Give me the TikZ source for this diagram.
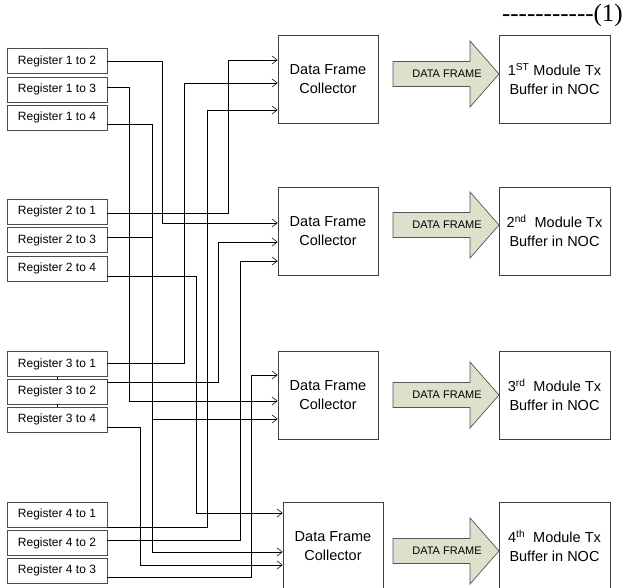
\documentclass[tikz,border=0pt]{standalone}
\usepackage{fontspec}
\setmainfont{Liberation Sans}
\newfontfamily\eqfont{Liberation Serif}
\usetikzlibrary{arrows.meta}
\definecolor{framefill}{RGB}{221,225,204}
\definecolor{frameedge}{RGB}{85,85,85}
\newcommand\hy{-\kern0pt}

\begin{document}
\begin{tikzpicture}[x=1pt,y=-1pt,
  reg/.style={draw=black!70, line width=0.9pt, minimum width=100pt,
    minimum height=25pt, inner sep=0pt, font=\fontsize{12}{14}\selectfont},
  box/.style={draw=black!75, line width=0.8pt, inner sep=0pt, align=center,
    minimum height=88pt, font=\fontsize{14.5}{19}\selectfont},
  collector/.style={box, minimum width=100pt},
  module/.style={box, minimum width=111pt},
  conn/.style={draw=black, line width=0.7pt,
    -{Straight Barb[length=5pt,width=8pt,line width=0.6pt]}},
  link/.style={draw=black, line width=0.7pt},
  bigarrow/.style={draw=frameedge, fill=framefill, line width=0.7pt},
  arrowtext/.style={inner sep=0pt, font=\fontsize{11}{13}\selectfont}
]
\useasboundingbox (0,0) rectangle (624,587);
\clip (0,0) rectangle (624,587);

% equation tag
\node[anchor=base east, inner sep=0pt, font=\eqfont\fontsize{25}{25}\selectfont]
  (tag) at (623,21) {\hy\hy\hy\hy\hy\hy\hy\hy\hy\hy\hy(1)};

% register blocks
\node[reg] (r12) at (57,61)    {Register 1 to 2};
\node[reg] (r13) at (57,89.5)  {Register 1 to 3};
\node[reg] (r14) at (57,117.5) {Register 1 to 4};
\node[reg] (r21) at (57,211.5) {Register 2 to 1};
\node[reg] (r23) at (57,240)   {Register 2 to 3};
\node[reg] (r24) at (57,268.5) {Register 2 to 4};
\node[reg] (r31) at (57,364)   {Register 3 to 1};
\node[reg] (r32) at (57,391.5) {Register 3 to 2};
\node[reg] (r34) at (57,419.5) {Register 3 to 4};
\node[reg] (r41) at (57,514.5) {Register 4 to 1};
\node[reg] (r42) at (57,543)   {Register 4 to 2};
\node[reg] (r43) at (57,570.5) {Register 4 to 3};
\draw[link] (r31.south) -- (r32.north);
\draw[link] (r32.south) -- (r34.north);

% collectors
\node[collector] (c1) at (328,79)  {Data Frame\\Collector};
\node[collector] (c2) at (328,231) {Data Frame\\Collector};
\node[collector] (c3) at (328,395) {Data Frame\\Collector};
\node[collector] (c4) at (333,546) {Data Frame\\Collector};

% transmit buffers
\node[module] (m1) at (554.5,79)  {1\textsuperscript{ST} Module Tx\\Buffer in NOC};
\node[module] (m2) at (554.5,231) {2\textsuperscript{nd}\ \ Module Tx\\Buffer in NOC};
\node[module] (m3) at (554.5,395) {3\textsuperscript{rd}\ \ Module Tx\\Buffer in NOC};
\node[module] (m4) at (554.5,546) {4\textsuperscript{th}\ \ Module Tx\\Buffer in NOC};

% data frame arrows
\foreach \cy/\n in {74/1, 225/2, 395/3, 551/4}{
  \draw[bigarrow] (393,\cy-12.5) -- (470,\cy-12.5) -- (470,\cy-33)
    -- (499,\cy) -- (470,\cy+33) -- (470,\cy+12.5) -- (393,\cy+12.5) -- cycle;
  \node[arrowtext] (df\n) at (447,\cy) {DATA FRAME};
}

% register to collector routing
\draw[conn] (r12.east |- 0,61)  -| (162,223) -- (c2.west |- 0,223);
\draw[conn] (r13.east |- 0,87)  -| (129,401) -- (c3.west |- 0,401);
\draw[conn] (r14.east |- 0,124) -| (152,552) -- (c4.west |- 0,552);
\draw[conn] (r21.east |- 0,213) -| (228,60)  -- (c1.west |- 0,60);
\draw[conn] (r23.east |- 0,237) -| (152,419) -- (c3.west |- 0,419);
\draw[conn] (r24.east |- 0,276) -| (196,513) -- (c4.west |- 0,513);
\draw[conn] (r31.east |- 0,363) -| (184,83)  -- (c1.west |- 0,83);
\draw[conn] (r32.east |- 0,382) -| (218,242) -- (c2.west |- 0,242);
\draw[conn] (r34.east |- 0,427) -| (140,565) -- (c4.west |- 0,565);
\draw[conn] (r41.east |- 0,527) -| (207,110) -- (c1.west |- 0,110);
\draw[conn] (r42.east |- 0,540) -| (240,261) -- (c2.west |- 0,261);
\draw[conn] (r43.east |- 0,577) -| (251,375) -- (c3.west |- 0,375);
\end{tikzpicture}
\end{document}
